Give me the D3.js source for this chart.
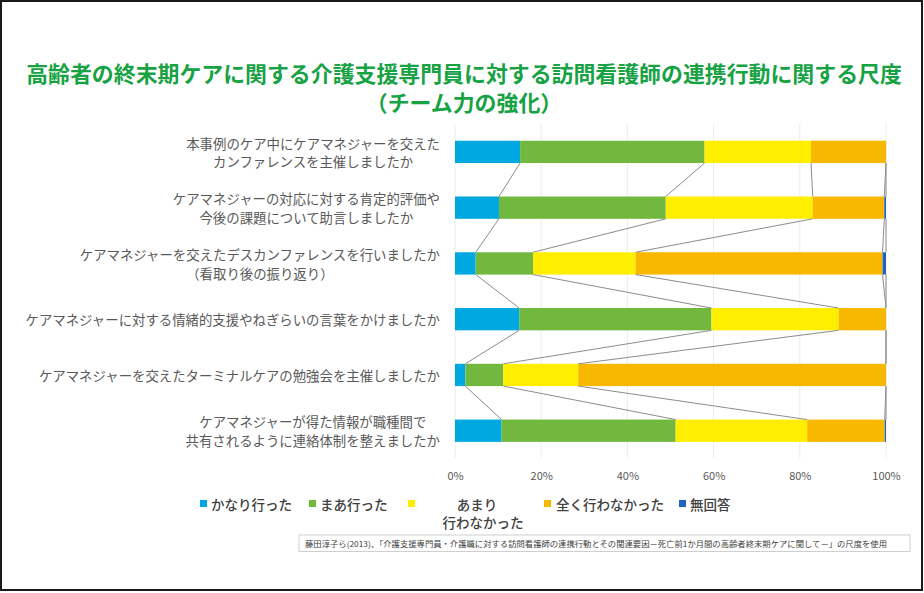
<!DOCTYPE html>
<html>
<head>
<meta charset="utf-8">
<script src="https://cdn.jsdelivr.net/npm/d3@7/dist/d3.min.js"></script>
<style>
  html, body { margin: 0; padding: 0; background: #fff; }
  svg { display: block; }
  text { font-family: "Noto Sans CJK JP", "Noto Sans", sans-serif; }
</style>
</head>
<body>
<svg id="chart" width="924" height="593"></svg>
<script>
// ---- data ----
const titleLines = ["高齢者の終末期ケアに関する介護支援専門員に対する訪問看護師の連携行動に関する尺度", "（チーム力の強化）"];
const categories = [
  ["本事例のケア中にケアマネジャーを交えた", "カンファレンスを主催しましたか"],
  ["ケアマネジャーの対応に対する肯定的評価や", "今後の課題について助言しましたか"],
  ["ケアマネジャーを交えたデスカンファレンスを行いましたか", "（看取り後の振り返り）"],
  ["ケアマネジャーに対する情緒的支援やねぎらいの言葉をかけましたか"],
  ["ケアマネジャーを交えたターミナルケアの勉強会を主催しましたか"],
  ["ケアマネジャーが得た情報が職種間で", "共有されるように連絡体制を整えましたか"]
];
const seriesNames = ["かなり行った", "まあ行った", "あまり行わなかった", "全く行わなかった", "無回答"];
const kanari  = [15.1, 10.2, 4.8, 14.9, 2.4, 10.8];
const maa     = [42.8, 38.7, 13.3, 44.6, 8.8, 40.4];
const amari   = [24.7, 34.1, 23.8, 29.5, 17.4, 30.5];
const mattaku = [17.4, 16.6, 57.3, 11.0, 71.4, 18.0];
const mukaito = [0.0, 0.4, 0.8, 0.0, 0.0, 0.3];
const tickValues = [0, 20, 40, 60, 80, 100];
const footnote = "藤田淳子ら(2013)、「介護支援専門員・介護職に対する訪問看護師の連携行動とその関連要因－死亡前1か月間の高齢者終末期ケアに関して－」の尺度を使用";

const seriesValues = [kanari, maa, amari, mattaku, mukaito];
const colors = ["#00A8E1", "#72B83F", "#FFEE00", "#F9B800", "#2064C0"];

// ---- layout ----
const svg = d3.select("#chart");
svg.append("rect").attr("x", 1).attr("y", 1).attr("width", 921).attr("height", 589)
  .attr("fill", "#fff").attr("stroke", "#1a1a1a").attr("stroke-width", 2);

// title
svg.append("g").selectAll("text").data(titleLines).join("text")
  .attr("x", 464).attr("y", (d, i) => 72 + i * 29)
  .attr("text-anchor", "middle").attr("dominant-baseline", "central")
  .attr("font-size", 21.9).attr("font-weight", 700).attr("fill", "#17A244")
  .text(d => d);

const x = d3.scaleLinear().domain([0, 100]).range([455, 886]);
const y = d3.scaleBand().domain(d3.range(categories.length)).range([124, 458.6]).paddingInner(0.6).paddingOuter(0.3);

// gridlines
svg.append("g").selectAll("line").data(tickValues).join("line")
  .attr("x1", d => x(d)).attr("x2", d => x(d))
  .attr("y1", 124).attr("y2", 458)
  .attr("stroke", "#ececec").attr("stroke-width", 1);

// stacked data
const rows = categories.map((c, i) => {
  let acc = 0;
  return seriesValues.map((vals, k) => {
    const s = { row: i, k, x0: acc, x1: acc + vals[i] };
    acc += vals[i];
    return s;
  });
});

// bars
const barG = svg.append("g");
rows.forEach(r => {
  barG.selectAll(null).data(r.filter(s => s.x1 > s.x0)).join("rect")
    .attr("x", s => x(s.x0))
    .attr("y", s => y(s.row))
    .attr("width", s => Math.max(0, x(s.x1) - x(s.x0)))
    .attr("height", y.bandwidth())
    .attr("fill", s => colors[s.k]);
});

// series lines
const seriesLines = [];
for (let k = 0; k < seriesValues.length; k++) {
  for (let i = 0; i < categories.length - 1; i++) {
    seriesLines.push({ xa: rows[i][k].x1, ya: y(i) + y.bandwidth(), xb: rows[i + 1][k].x1, yb: y(i + 1) });
  }
}
svg.append("g").selectAll("line").data(seriesLines).join("line")
  .attr("x1", d => x(d.xa)).attr("y1", d => d.ya)
  .attr("x2", d => x(d.xb)).attr("y2", d => d.yb)
  .attr("stroke", "#8c8c8c").attr("stroke-width", 1);

// category labels
const labG = svg.append("g");
categories.forEach((lines, i) => {
  const cy = y(i) + y.bandwidth() / 2;
  const lh = 18.5;
  const tmp = labG.append("g");
  const texts = tmp.selectAll("text").data(lines).join("text")
    .attr("y", (d, j) => cy + (j - (lines.length - 1) / 2) * lh)
    .attr("dominant-baseline", "central")
    .attr("text-anchor", "middle")
    .attr("font-size", 13.4).attr("fill", "#595959")
    .text(d => d);
  let maxW = 0;
  texts.each(function () { maxW = Math.max(maxW, this.getComputedTextLength()); });
  texts.attr("x", 440 - maxW / 2);
});

// x axis tick labels
const axisG = svg.append("g").attr("transform", "translate(0,476)");
axisG.call(d3.axisBottom(x).tickValues(tickValues).tickFormat(d => d + "%").tickSize(0).tickPadding(0));
axisG.select(".domain").remove();
axisG.selectAll("text").attr("dy", "0.35em").attr("y", 0)
  .attr("font-size", 11).attr("fill", "#595959")
  .attr("font-family", "\"Noto Sans CJK JP\", sans-serif");

// legend
const legendItems = [
  { sq: 200, tx: 211, lines: ["かなり行った"], anchor: "start" },
  { sq: 309, tx: 320, lines: ["まあ行った"], anchor: "start" },
  { sq: 408, tx: 480, lines: ["あまり", "行わなかった"], anchor: "middle" },
  { sq: 544, tx: 556, lines: ["全く行わなかった"], anchor: "start" },
  { sq: 679, tx: 690, lines: ["無回答"], anchor: "start" }
];
const legG = svg.append("g");
legendItems.forEach((it, k) => {
  legG.append("rect").attr("x", it.sq).attr("y", 500).attr("width", 7).attr("height", 7).attr("fill", colors[k]);
  legG.append("g").selectAll("text").data(it.lines).join("text")
    .attr("x", (d, j) => it.anchor === "middle" ? (j === 0 ? 477 : 483) : it.tx)
    .attr("y", (d, j) => 503.5 + j * 18.5)
    .attr("text-anchor", it.anchor).attr("dominant-baseline", "central")
    .attr("font-size", 13.5).attr("font-weight", 500).attr("fill", "#404040")
    .text(d => d);
});

// footnote box
svg.append("rect").attr("x", 299).attr("y", 535).attr("width", 611).attr("height", 16.5)
  .attr("fill", "#fff").attr("stroke", "#cfcfcf").attr("stroke-width", 1);
svg.append("text").attr("x", 305).attr("y", 543.5).attr("dominant-baseline", "central")
  .attr("font-size", 8).attr("fill", "#404040")
  .attr("textLength", 582).attr("lengthAdjust", "spacingAndGlyphs")
  .text(footnote);
</script>
</body>
</html>
